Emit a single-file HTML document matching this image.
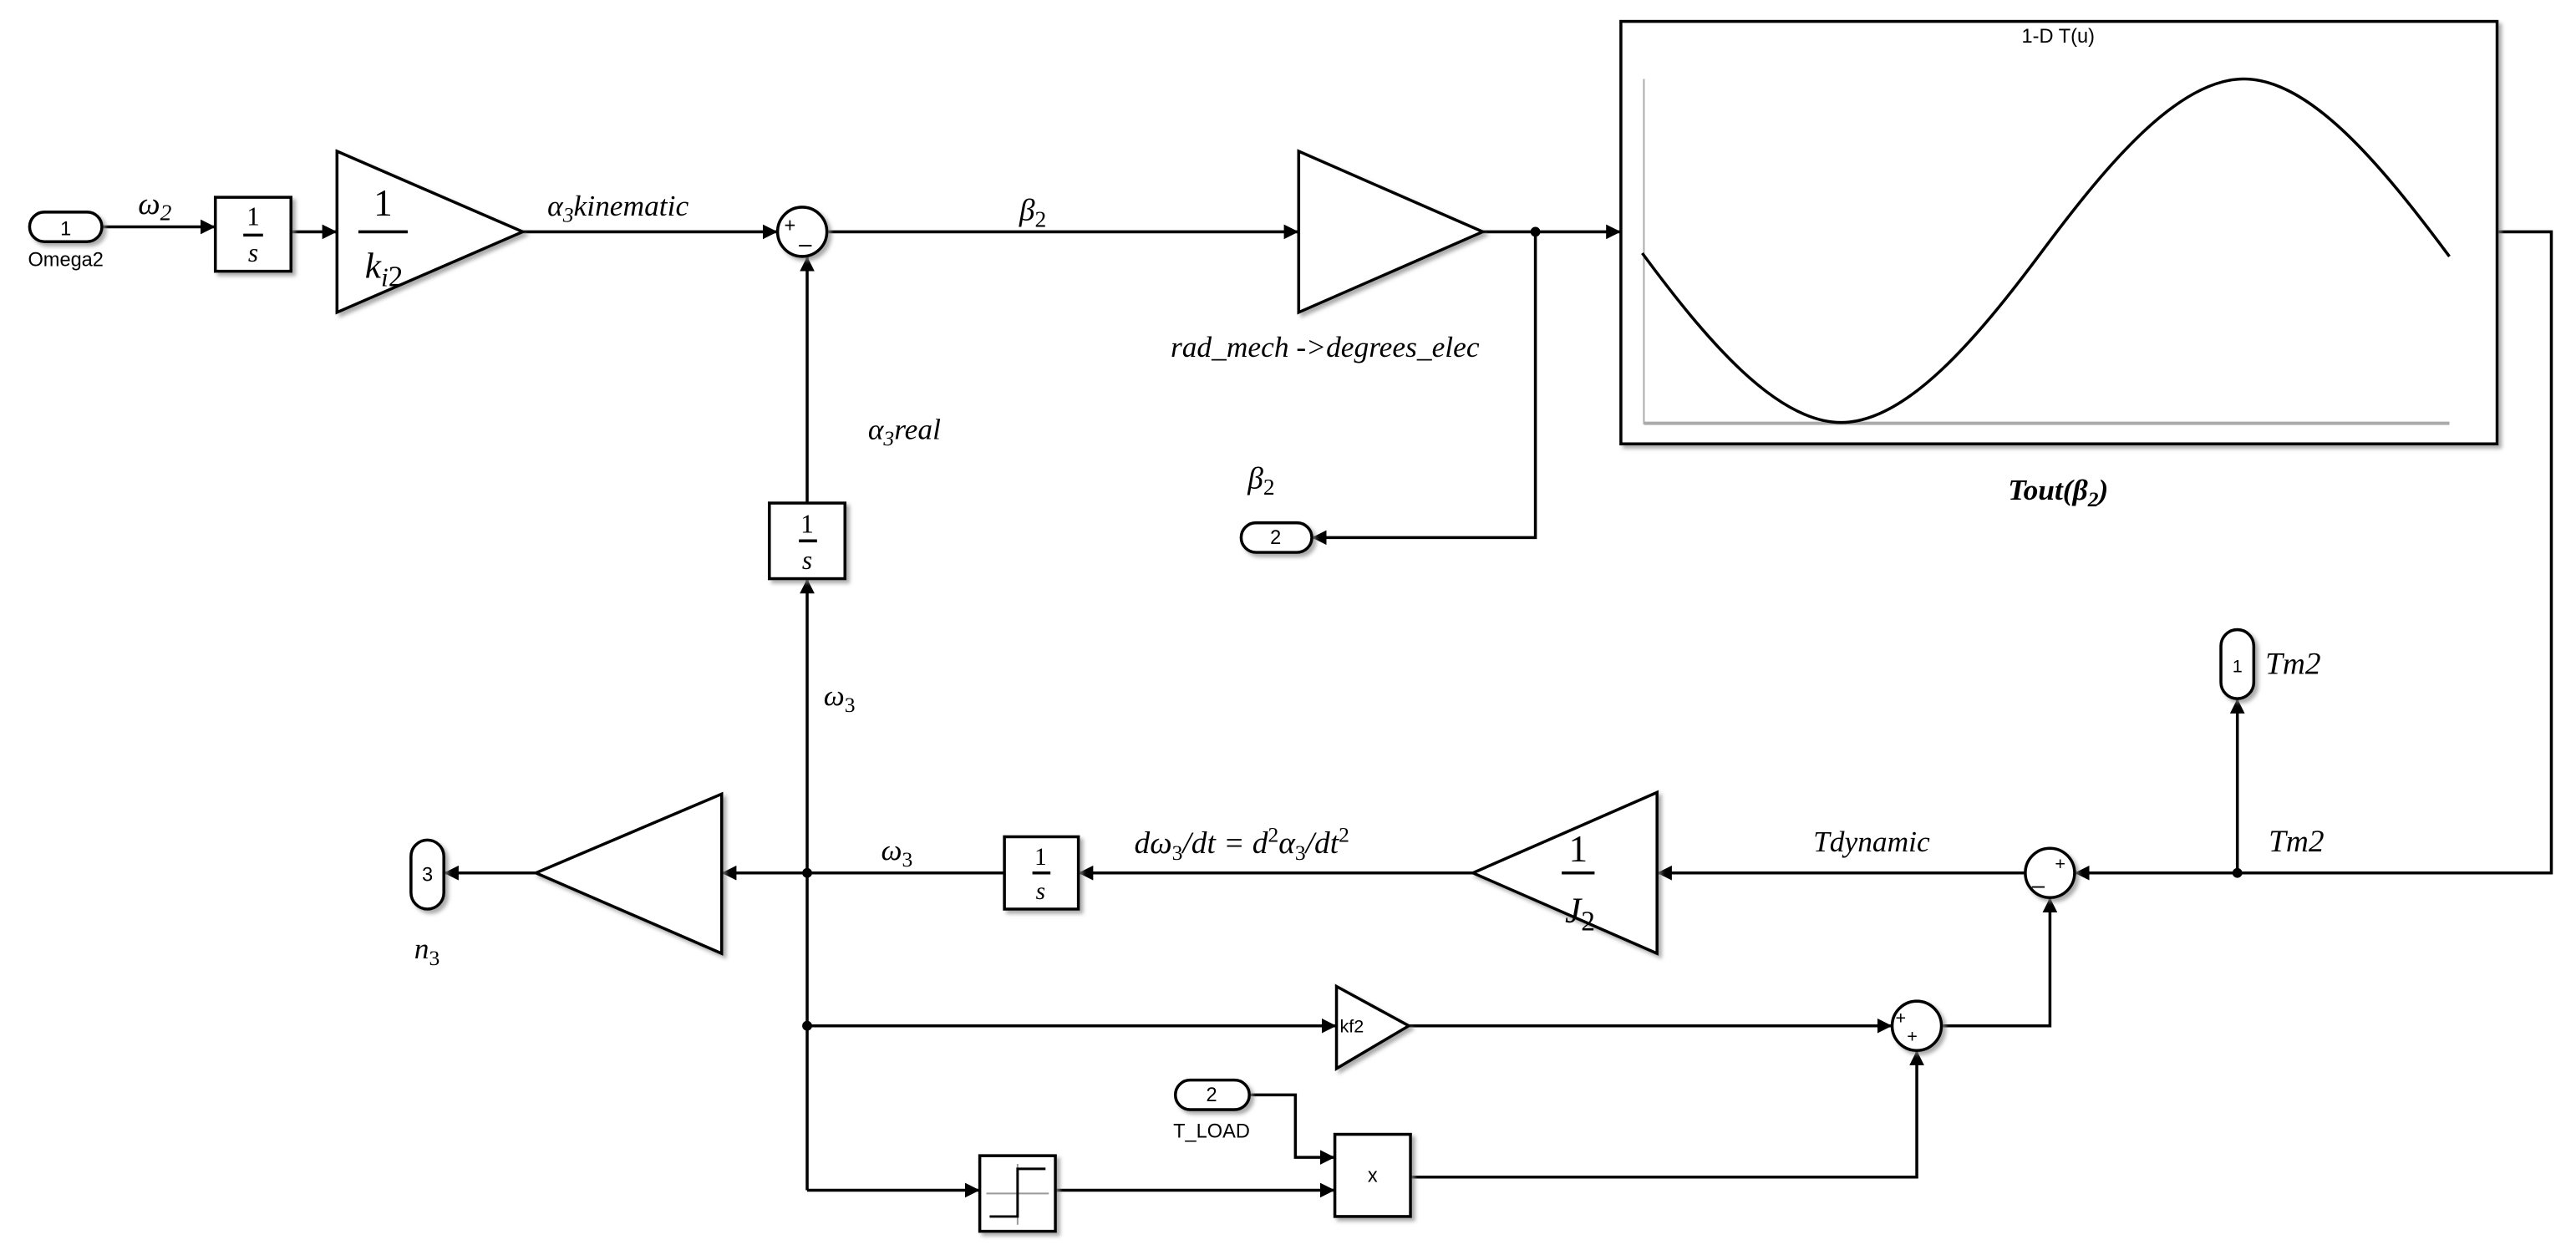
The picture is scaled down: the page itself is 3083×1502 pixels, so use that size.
<!DOCTYPE html>
<html><head><meta charset="utf-8"><style>
html,body{margin:0;padding:0;background:#fff;}
svg{display:block;}
.s{font-family:"Liberation Serif",serif;font-style:italic;}
.a{font-family:"Liberation Sans",sans-serif;}
</style></head><body>
<svg width="3083" height="1502" viewBox="0 0 1567 763.4" xmlns="http://www.w3.org/2000/svg">
<defs>
<marker id="ar2" viewBox="0 0 10 10" refX="10" refY="5" markerWidth="9" markerHeight="9" orient="auto" markerUnits="userSpaceOnUse"><path d="M0,0L10,5L0,10z" fill="#000"/></marker>
<filter id="sh" x="-10%" y="-10%" width="130%" height="130%"><feDropShadow dx="2" dy="2" stdDeviation="1.2" flood-color="#888" flood-opacity="0.7"/></filter>
</defs>
<g fill="none" stroke="#000" stroke-width="1.8">
<line x1="62" y1="138" x2="131" y2="138" marker-end="url(#ar2)"/>
<line x1="177" y1="141" x2="205" y2="141" marker-end="url(#ar2)"/>
<line x1="318" y1="141" x2="473" y2="141" marker-end="url(#ar2)"/>
<line x1="503" y1="141" x2="790" y2="141" marker-end="url(#ar2)"/>
<line x1="902" y1="141" x2="986" y2="141" marker-end="url(#ar2)"/>
<polyline points="934,141 934,327 798,327" marker-end="url(#ar2)"/>
<line x1="491" y1="306" x2="491" y2="156" marker-end="url(#ar2)"/>
<line x1="491" y1="724" x2="491" y2="352" marker-end="url(#ar2)"/>
<polyline points="1519,141 1552,141 1552,531 1262,531" marker-end="url(#ar2)"/>
<line x1="1361" y1="531" x2="1361" y2="425" marker-end="url(#ar2)"/>
<line x1="1232" y1="531" x2="1008" y2="531" marker-end="url(#ar2)"/>
<line x1="896" y1="531" x2="656" y2="531" marker-end="url(#ar2)"/>
<line x1="611" y1="531" x2="439" y2="531" marker-end="url(#ar2)"/>
<line x1="326" y1="531" x2="270" y2="531" marker-end="url(#ar2)"/>
<line x1="491" y1="624" x2="813" y2="624" marker-end="url(#ar2)"/>
<line x1="857" y1="624" x2="1151" y2="624" marker-end="url(#ar2)"/>
<polyline points="1181,624 1247,624 1247,546" marker-end="url(#ar2)"/>
<line x1="491" y1="724" x2="596" y2="724" marker-end="url(#ar2)"/>
<line x1="642" y1="724" x2="812" y2="724" marker-end="url(#ar2)"/>
<polyline points="760,666 788,666 788,704 812,704" marker-end="url(#ar2)"/>
<polyline points="858,716 1166,716 1166,639" marker-end="url(#ar2)"/>
</g>
<g fill="#000">
<circle cx="934" cy="141" r="3"/><circle cx="1361" cy="531" r="3"/><circle cx="491" cy="531" r="3"/><circle cx="491" cy="624" r="3"/>
</g>
<g fill="#fff" stroke="#000" stroke-width="1.8" filter="url(#sh)">
<rect x="18" y="129" width="44" height="18" rx="9"/>
<rect x="131" y="120" width="46" height="45"/>
<polygon points="205,92 318,141 205,190"/>
<circle cx="488" cy="141" r="15"/>
<polygon points="790,92 902,141 790,190"/>
<rect x="986" y="13" width="533" height="257"/>
<rect x="755" y="318" width="43" height="18" rx="9"/>
<rect x="468" y="306" width="46" height="46"/>
<rect x="1351" y="383" width="20" height="42" rx="10"/>
<circle cx="1247" cy="531" r="15"/>
<polygon points="896,531 1008,482 1008,580"/>
<rect x="611" y="509" width="45" height="44"/>
<polygon points="326,531 439,483 439,580"/>
<rect x="250" y="511" width="20" height="42" rx="10"/>
<polygon points="813,600 857,624 813,650"/>
<circle cx="1166" cy="624" r="15"/>
<rect x="715" y="657" width="45" height="18" rx="9"/>
<rect x="812" y="690" width="46" height="50"/>
<rect x="596" y="703" width="46" height="46"/>
</g>
<line x1="1000" y1="48" x2="1000" y2="258" stroke="#aaa" stroke-width="1"/>
<line x1="1000" y1="257.5" x2="1490" y2="257.5" stroke="#aaa" stroke-width="2"/>
<path fill="none" stroke="#000" stroke-width="1.8" d="M999,154 C1037.3,205.9 1080.2,257 1120,257 C1159.8,257 1202.7,205.9 1242.5,152.5 C1282.3,99.1 1325.2,48 1365,48 C1404.8,48 1447.7,99.1 1490,156"/>
<g stroke="#000" stroke-width="1" fill="none">
<line x1="619" y1="708" x2="619" y2="745" stroke="#999"/>
<line x1="600" y1="726" x2="638" y2="726" stroke="#999"/>
<polyline points="602,740 619,740 619,711 636,711" stroke="#000" stroke-width="1.5"/>
</g>
<g stroke="#000" stroke-width="1.8">
<line x1="148" y1="143" x2="160" y2="143"/>
<line x1="486" y1="329" x2="497" y2="329"/>
<line x1="628" y1="531" x2="639" y2="531"/>
<line x1="218" y1="141" x2="248" y2="141"/>
<line x1="950" y1="531" x2="970" y2="531"/>
</g>
<g class="s" fill="#000">
<text x="154" y="137" font-size="16" text-anchor="middle" font-style="normal">1</text>
<text x="154" y="159" font-size="16" text-anchor="middle">s</text>
<text x="491" y="324" font-size="16" text-anchor="middle" font-style="normal">1</text>
<text x="491" y="346" font-size="16" text-anchor="middle">s</text>
<text x="633" y="526" font-size="15" text-anchor="middle" font-style="normal">1</text>
<text x="633" y="547" font-size="15" text-anchor="middle">s</text>
<text x="233" y="131" font-size="23" text-anchor="middle" font-style="normal">1</text>
<text x="222" y="169" font-size="22">k<tspan font-size="16" dy="5">i</tspan><tspan font-size="18" font-style="normal">2</tspan></text>
<text x="960" y="524" font-size="23" text-anchor="middle" font-style="normal">1</text>
<text x="952" y="561" font-size="22">J<tspan font-size="17" dy="5" font-style="normal">2</tspan></text>
<text x="84" y="130" font-size="19">ω<tspan font-size="14" dy="4">2</tspan></text>
<text x="333" y="131" font-size="18">α<tspan font-size="13" dy="4">3</tspan><tspan dy="-4">kinematic</tspan></text>
<text x="620" y="134" font-size="19">β<tspan font-size="14" dy="4" font-style="normal">2</tspan></text>
<text x="806" y="217" font-size="18" text-anchor="middle">rad_mech -&gt;degrees_elec</text>
<text x="1252" y="304" font-size="18" font-weight="bold" text-anchor="middle">Tout(β<tspan font-size="13" dy="4">2</tspan><tspan dy="-4">)</tspan></text>
<text x="759" y="297" font-size="19">β<tspan font-size="14" dy="4" font-style="normal">2</tspan></text>
<text x="528" y="267" font-size="18">α<tspan font-size="13" dy="4">3</tspan><tspan dy="-4">real</tspan></text>
<text x="501" y="429" font-size="18">ω<tspan font-size="13" dy="4" font-style="normal">3</tspan></text>
<text x="1378" y="410" font-size="19">Tm2</text>
<text x="1380" y="518" font-size="19">Tm2</text>
<text x="1103" y="518" font-size="18">Tdynamic</text>
<text x="690" y="519" font-size="19">dω<tspan font-size="13" dy="4" font-style="normal">3</tspan><tspan dy="-4">/dt = d</tspan><tspan font-size="13" dy="-7" font-style="normal">2</tspan><tspan dy="7">α</tspan><tspan font-size="13" dy="4" font-style="normal">3</tspan><tspan dy="-4">/dt</tspan><tspan font-size="13" dy="-7" font-style="normal">2</tspan></text>
<text x="536" y="523" font-size="18">ω<tspan font-size="13" dy="4" font-style="normal">3</tspan></text>
<text x="252" y="583" font-size="18">n<tspan font-size="13" dy="4" font-style="normal">3</tspan></text>
</g>
<g class="a" fill="#000">
<text x="40" y="143" font-size="12" text-anchor="middle">1</text>
<text x="40" y="162" font-size="12" text-anchor="middle">Omega2</text>
<text x="1252" y="26" font-size="12" text-anchor="middle">1-D T(u)</text>
<text x="776" y="331" font-size="12" text-anchor="middle">2</text>
<text x="1361" y="409" font-size="11" text-anchor="middle">1</text>
<text x="260" y="536" font-size="12" text-anchor="middle">3</text>
<text x="737" y="670" font-size="12" text-anchor="middle">2</text>
<text x="737" y="692" font-size="12" text-anchor="middle">T_LOAD</text>
<text x="835" y="719" font-size="12" text-anchor="middle">x</text>
<text x="815" y="628" font-size="11">kf2</text>
<text x="477" y="141" font-size="12">+</text>
<text x="486" y="153" font-size="14">–</text>
<text x="1250" y="529" font-size="11">+</text>
<text x="1236" y="543" font-size="14">–</text>
<text x="1153" y="623" font-size="11">+</text>
<text x="1160" y="634" font-size="11">+</text>
</g>
</svg>
</body></html>
